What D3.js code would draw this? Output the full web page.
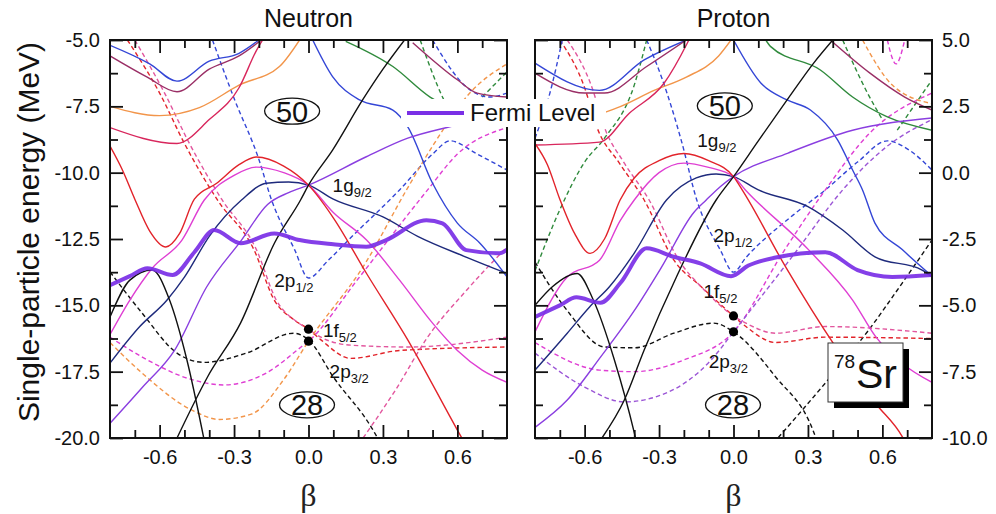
<!DOCTYPE html>
<html>
<head>
<meta charset="utf-8">
<script src="https://cdn.jsdelivr.net/npm/d3@7"></script>
<style>body{margin:0;background:#fff}</style>
</head>
<body>
<div class="chart"></div>
<script>
// ticks
const xMajor = [-0.6, -0.3, 0, 0.3, 0.6];
const xMinor = [-0.7, -0.5, -0.4, -0.2, -0.1, 0.1, 0.2, 0.4, 0.5, 0.7];
const nYMajor = [-20, -17.5, -15, -12.5, -10, -7.5, -5];
const nYMinor = [-18.75, -16.25, -13.75, -11.25, -8.75, -6.25];
const pYMajor = [-10, -7.5, -5, -2.5, 0, 2.5, 5];
const pYMinor = [-8.75, -6.25, -3.75, -1.25, 1.25, 3.75];

// neutron levels [beta, MeV]
const nBlackG = [[-0.53,-20.0],[-0.407,-17.7],[-0.274,-15.67],[-0.137,-12.65],[-0.032,-11.03],[0,-10.47],[0.097,-9.15],[0.218,-7.26],[0.3,-6.1],[0.387,-5.0]];
const nBlackPeak = [[-0.8,-15.44],[-0.72,-14.05],[-0.63,-13.67],[-0.56,-14.8],[-0.49,-17.06],[-0.42,-20.1]];
const nRed = [[-0.8,-9.0],[-0.75,-9.9],[-0.7,-11.0],[-0.64,-12.2],[-0.575,-12.8],[-0.52,-12.3],[-0.46,-11.0],[-0.37,-10.4],[-0.28,-9.7],[-0.21,-9.41],[-0.1,-9.75],[0,-10.47],[0.1,-11.7],[0.234,-13.8],[0.4,-16.3],[0.6,-19.7],[0.63,-20.2]];
const nMagenta = [[-0.8,-16.1],[-0.72,-14.8],[-0.63,-13.6],[-0.51,-12.54],[-0.42,-11.03],[-0.3,-10.1],[-0.21,-9.79],[-0.1,-10.0],[0,-10.47],[0.1,-11.5],[0.234,-12.54],[0.367,-14.05],[0.5,-15.67],[0.6,-16.7],[0.7,-17.44],[0.8,-17.9]];
const nNavy = [[-0.8,-17.18],[-0.68,-15.8],[-0.57,-14.8],[-0.5,-13.94],[-0.4,-12.4],[-0.27,-11.03],[-0.17,-10.4],[-0.08,-10.35],[0,-10.47],[0.1,-11.0],[0.3,-11.67],[0.44,-12.4],[0.64,-13.2],[0.8,-13.8]];
const nViolet = [[-0.8,-19.45],[-0.67,-18.1],[-0.54,-16.7],[-0.41,-14.3],[-0.27,-12.54],[-0.165,-11.2],[-0.08,-10.75],[0,-10.47],[0.233,-9.4],[0.4,-8.7],[0.569,-8.27],[0.8,-7.8]];
const nBlueTop = [[-0.8,-5.2],[-0.64,-5.9],[-0.53,-6.55],[-0.4,-5.8],[-0.28,-5.5],[-0.2,-5.0]];
const nMaroonTop = [[-0.8,-5.6],[-0.65,-6.4],[-0.53,-6.95],[-0.4,-6.1],[-0.28,-5.6],[-0.19,-5.0]];
const nOrange = [[-0.8,-7.5],[-0.6,-7.85],[-0.44,-7.55],[-0.28,-6.7],[-0.117,-6.0],[-0.036,-5.0]];
const nCrimson = [[-0.8,-8.3],[-0.53,-8.9],[-0.4,-8.0],[-0.28,-6.8],[-0.21,-5.4],[-0.185,-5.0]];
const nBlue2 = [[0.017,-5.0],[0.097,-6.38],[0.206,-7.26],[0.34,-7.64],[0.4,-8.27],[0.5,-10.4],[0.6,-11.9],[0.69,-12.65],[0.8,-13.93]];
const nGreen = [[0.15,-5.05],[0.34,-6.0],[0.49,-7.15],[0.6,-7.7],[0.8,-8.1]];
const nMaroon2 = [[0.42,-5.1],[0.6,-6.5],[0.68,-7.0],[0.8,-7.15]];
const nBlackDash = [[-0.8,-13.74],[-0.67,-15.3],[-0.53,-16.8],[-0.42,-17.15],[-0.25,-16.8],[-0.06,-16.05],[0,-16.3],[0.1,-17.7],[0.26,-19.7],[0.29,-20.2]];
const nBlueDash = [[-0.387,-5.0],[-0.3,-7.2],[-0.2,-9.5],[-0.15,-11.0],[-0.056,-12.9],[0,-13.97],[0.08,-13.3],[0.165,-12.5],[0.367,-10.65],[0.5,-9.3],[0.57,-8.8],[0.68,-9.3],[0.8,-9.9]];
const nRedDash = [[-0.73,-5.0],[-0.6,-7.0],[-0.5,-8.9],[-0.367,-11.03],[-0.22,-12.9],[-0.138,-14.8],[-0.058,-15.55],[0,-15.9],[0.05,-16.3],[0.17,-17.0],[0.37,-16.7],[0.8,-16.57]];
const nPinkDash = [[-0.7,-5.0],[-0.58,-7.0],[-0.48,-8.9],[-0.35,-11.0],[-0.21,-12.9],[-0.13,-14.8],[-0.05,-15.6],[0,-15.9],[0.05,-16.2],[0.17,-16.5],[0.4,-16.57],[0.8,-16.2]];
const nPinkDash2 = [[-0.8,-16.2],[-0.67,-16.95],[-0.47,-17.8],[-0.34,-18.0],[-0.17,-17.55],[-0.03,-16.57],[0,-16.35],[0.2,-14.0],[0.48,-10.65],[0.6,-9.3],[0.8,-8.3]];
const nOrangeDash = [[-0.8,-16.4],[-0.67,-17.56],[-0.47,-18.95],[-0.36,-19.3],[-0.23,-19.1],[-0.1,-17.8],[0,-16.35],[0.23,-13.4],[0.395,-10.65],[0.5,-9.0],[0.65,-7.0],[0.8,-5.9]];
const nPinkRise = [[0.22,-20.0],[0.35,-18.2],[0.48,-16.2],[0.64,-14.4],[0.8,-12.8]];
const nGreenDash = [[0.45,-5.0],[0.54,-7.15],[0.6,-8.2]];
const nGreenDash2 = [[0.7,-7.15],[0.8,-6.2]];
const nBlueDashTop = [[0.5,-5.0],[0.64,-6.8],[0.73,-7.15],[0.8,-7.0]];
const nFermi = [[-0.8,-14.24],[-0.72,-13.9],[-0.649,-13.6],[-0.548,-13.86],[-0.46,-13.0],[-0.38,-12.16],[-0.273,-12.66],[-0.138,-12.29],[-0.036,-12.54],[0.1,-12.7],[0.233,-12.79],[0.313,-12.54],[0.475,-11.79],[0.54,-11.91],[0.636,-12.92],[0.77,-13.04],[0.8,-12.9]];
const nDots = [[0,-15.9],[0,-16.35]];

// proton levels [beta, MeV]
const pBlackG = [[-0.53,-10.0],[-0.44,-8.57],[-0.36,-6.68],[-0.23,-3.93],[-0.07,-1.03],[0,-0.15],[0.1,1.2],[0.216,2.74],[0.323,4.13],[0.4,5.0]];
const pBlackPeak = [[-0.8,-5.0],[-0.73,-4.3],[-0.63,-3.8],[-0.565,-4.8],[-0.48,-7.06],[-0.4,-9.8],[-0.39,-10.2]];
const pRed = [[-0.8,1.1],[-0.75,0.3],[-0.7,-1.0],[-0.64,-2.3],[-0.578,-3.04],[-0.52,-2.5],[-0.457,-1.03],[-0.4,-0.2],[-0.3,0.45],[-0.2,0.72],[-0.1,0.45],[0,-0.15],[0.035,-0.65],[0.21,-3.55],[0.411,-6.56],[0.573,-8.7],[0.68,-9.95],[0.7,-10.3]];
const pMagenta = [[-0.8,-6.0],[-0.67,-3.93],[-0.54,-3.3],[-0.456,-1.8],[-0.4,-1.03],[-0.3,0.0],[-0.2,0.36],[-0.1,0.2],[0,-0.15],[0.048,-0.65],[0.304,-2.92],[0.48,-4.8],[0.573,-6.18],[0.68,-7.19],[0.8,-7.9]];
const pNavy = [[-0.8,-7.44],[-0.67,-6.05],[-0.58,-5.06],[-0.5,-4.3],[-0.4,-3.03],[-0.27,-1.03],[-0.15,-0.2],[-0.07,-0.05],[0,-0.15],[0.1,-0.65],[0.3,-1.28],[0.44,-2.16],[0.57,-3.17],[0.76,-3.67],[0.8,-3.93]];
const pViolet = [[-0.8,-9.6],[-0.67,-8.57],[-0.536,-6.95],[-0.4,-5.2],[-0.29,-3.56],[-0.16,-1.5],[-0.11,-1.03],[-0.05,-0.5],[0,-0.15],[0.22,0.74],[0.48,1.6],[0.8,2.06]];
const pBlue = [[0,5.0],[0.11,3.38],[0.216,2.74],[0.31,2.36],[0.42,1.23],[0.48,0.1],[0.52,-0.65],[0.57,-1.9],[0.68,-2.9],[0.8,-3.9]];
const pGreen = [[0.13,5.0],[0.15,4.75],[0.35,3.87],[0.48,2.85],[0.62,2.1],[0.8,1.6]];
const pMaroon = [[0.39,5.0],[0.55,3.75],[0.69,2.85],[0.8,2.36]];
const pBlueTop = [[-0.8,4.13],[-0.54,3.1],[-0.36,4.25],[-0.19,5.0]];
const pMaroonTop = [[-0.8,3.75],[-0.6,3.0],[-0.52,3.0],[-0.35,4.0],[-0.19,5.0]];
const pOrange = [[-0.8,2.2],[-0.6,2.1],[-0.47,2.44],[-0.32,3.1],[-0.19,3.6],[-0.06,4.4],[-0.01,5.0]];
const pCrimson = [[-0.8,1.04],[-0.54,1.15],[-0.42,2.24],[-0.28,3.37],[-0.187,4.87],[-0.18,5.0]];
const pBlackDash = [[-0.8,-3.37],[-0.67,-5.2],[-0.52,-6.57],[-0.4,-6.6],[-0.24,-6.05],[-0.08,-5.67],[0,-6.0],[0.17,-7.7],[0.32,-9.7],[0.34,-10.2]];
const pBlackRise = [[0.16,-10.2],[0.37,-7.93],[0.545,-5.93],[0.68,-4.16],[0.8,-2.54]];
const pBlueDash = [[-0.35,5.0],[-0.29,3.6],[-0.21,1.2],[-0.148,-1.03],[-0.054,-2.9],[0,-3.75],[0.05,-3.2],[0.24,-1.6],[0.37,-0.65],[0.5,0.4],[0.62,1.2],[0.7,0.9],[0.8,0.1]];
const pRedDash = [[-0.7,5.0],[-0.6,3.2],[-0.55,1.7],[-0.46,0.36],[-0.36,-1.03],[-0.24,-3.3],[-0.13,-4.3],[0,-5.4],[0.05,-5.8],[0.17,-6.4],[0.37,-6.2],[0.8,-6.25]];
const pPinkDash = [[-0.67,5.0],[-0.57,3.2],[-0.52,1.7],[-0.44,0.36],[-0.34,-1.03],[-0.22,-3.3],[-0.12,-4.4],[0,-5.4],[0.05,-5.67],[0.17,-6.05],[0.37,-5.8],[0.8,-6.05]];
const pPinkDash2 = [[-0.8,-6.4],[-0.54,-7.44],[-0.4,-7.5],[-0.2,-7.06],[0,-6.0],[0.2,-3.0],[0.37,-0.65],[0.55,1.5],[0.8,3.0]];
const pPurpleDash = [[-0.8,-6.8],[-0.6,-8.08],[-0.44,-8.64],[-0.27,-8.3],[-0.09,-7.06],[0,-6.0],[0.25,-3.0],[0.44,-0.65],[0.62,1.0],[0.8,2.0]];
const pGreenDash = [[-0.8,-3.7],[-0.7,-1.4],[-0.6,0.4],[-0.52,1.3],[-0.4,3.3],[-0.35,5.0]];
const pGreenDash2 = [[0.44,5.0],[0.54,3.0],[0.6,2.0]];
const pGreenDash3 = [[0.66,1.6],[0.8,3.5]];
const pOrangeDash = [[0.52,5.0],[0.64,3.3],[0.8,2.6]];
const pPinkV = [[0.62,5.0],[0.655,4.1],[0.69,5.0]];
const pBlueDashTL = [[-0.8,1.3],[-0.74,3.0],[-0.69,5.0]];
const pFermi = [[-0.8,-5.44],[-0.7,-5.0],[-0.633,-4.7],[-0.536,-4.9],[-0.456,-4.16],[-0.35,-2.85],[-0.242,-3.17],[-0.134,-3.42],[-0.01,-3.9],[0.06,-3.5],[0.17,-3.2],[0.37,-3.0],[0.5,-3.67],[0.64,-3.93],[0.8,-3.86]];
const pDots = [[0,-5.4],[0,-6.0]];

// annotations [text, sub, beta, MeV]
const nOrbits = [["1g","9/2",0.097,-10.73],["2p","1/2",-0.138,-14.31],["1f","5/2",0.058,-16.18],["2p","3/2",0.085,-17.74]];
const pOrbits = [["1g","9/2",-0.146,0.98],["2p","1/2",-0.081,-2.6],["1f","5/2",-0.121,-4.74],["2p","3/2",-0.1,-7.37]];
const nShells = [["50",-0.066,-7.68],["28",-0.006,-18.75]];
const pShells = [["50",-0.035,2.52],["28",-0.002,-8.75]];

const COL = {
  black: "#111111", red: "#e2232a", magenta: "#df3fd3", navy: "#1e2a7c", blue: "#3446d6",
  violet: "#8a3ee0", orange: "#f2954a", green: "#2f8a3c", maroon: "#9a2f66", crimson: "#d8265c",
  pink: "#e2569e", purple: "#9b55d6", fermi: "#7a2fe6"
};

const neutronLevels = [
  [nBlackDash,"black",1],[nBlueDash,"blue",1],[nRedDash,"red",1],[nPinkDash,"pink",1],
  [nPinkDash2,"magenta",1],[nOrangeDash,"orange",1],[nPinkRise,"pink",1],[nGreenDash,"green",1],
  [nGreenDash2,"green",1],[nBlueDashTop,"blue",1],
  [nBlueTop,"blue",0],[nMaroonTop,"maroon",0],[nOrange,"orange",0],[nCrimson,"crimson",0],
  [nBlue2,"blue",0],[nGreen,"green",0],[nMaroon2,"maroon",0],[nNavy,"navy",0],[nViolet,"violet",0],
  [nMagenta,"magenta",0],[nRed,"red",0],[nBlackPeak,"black",0],[nBlackG,"black",0]
];
const protonLevels = [
  [pBlackDash,"black",1],[pBlackRise,"black",1],[pBlueDash,"blue",1],[pRedDash,"red",1],[pPinkDash,"pink",1],
  [pPinkDash2,"magenta",1],[pPurpleDash,"purple",1],[pGreenDash,"green",1],[pGreenDash2,"green",1],
  [pGreenDash3,"green",1],[pOrangeDash,"orange",1],[pPinkV,"magenta",1],[pBlueDashTL,"blue",1],
  [pBlueTop,"blue",0],[pMaroonTop,"maroon",0],[pOrange,"orange",0],[pCrimson,"crimson",0],
  [pBlue,"blue",0],[pGreen,"green",0],[pMaroon,"maroon",0],[pNavy,"navy",0],[pViolet,"violet",0],
  [pMagenta,"magenta",0],[pRed,"red",0],[pBlackPeak,"black",0],[pBlackG,"black",0]
];

const W = 996, H = 514, TOP = 40, BOT = 438;
const FONT = "'Liberation Sans', Arial, Helvetica, sans-serif";

const svg = d3.select(".chart").append("svg")
  .attr("width", W).attr("height", H)
  .style("font-family", FONT);

const panels = [
  {id: "n", title: "Neutron", x0: 110, x1: 507, dom: [-20, -5], yMaj: nYMajor, yMin: nYMinor,
   levels: neutronLevels, fermi: nFermi, dots: nDots, orbits: nOrbits, shells: nShells, labelSide: "left"},
  {id: "p", title: "Proton", x0: 535, x1: 932, dom: [-10, 5], yMaj: pYMajor, yMin: pYMinor,
   levels: protonLevels, fermi: pFermi, dots: pDots, orbits: pOrbits, shells: pShells, labelSide: "right"}
];

const fmt = d => d.toFixed(1);

panels.forEach(p => {
  const x = d3.scaleLinear().domain([-0.8, 0.8]).range([p.x0, p.x1]);
  const y = d3.scaleLinear().domain(p.dom).range([BOT, TOP]);

  svg.append("clipPath").attr("id", "clip-" + p.id)
    .append("rect").attr("x", p.x0).attr("y", TOP)
    .attr("width", p.x1 - p.x0).attr("height", BOT - TOP);

  const g = svg.append("g").attr("clip-path", `url(#clip-${p.id})`);
  const line = d3.line().x(d => x(d[0])).y(d => y(d[1])).curve(d3.curveMonotoneX);

  g.selectAll("path.lvl").data(p.levels).join("path")
    .attr("class", "lvl")
    .attr("d", d => line(d[0]))
    .attr("fill", "none")
    .attr("stroke", d => COL[d[1]])
    .attr("stroke-width", 1.4)
    .attr("stroke-dasharray", d => d[2] ? "4.5,3" : null);

  g.append("path").attr("d", line(p.fermi))
    .attr("fill", "none").attr("stroke", COL.fermi)
    .attr("stroke-width", 4).attr("stroke-linejoin", "round").attr("opacity", 0.92);

  g.selectAll("circle").data(p.dots).join("circle")
    .attr("cx", d => x(d[0])).attr("cy", d => y(d[1])).attr("r", 4.6).attr("fill", "#000");

  // orbit labels
  const ot = svg.append("g").attr("font-size", 19).attr("fill", "#111");
  p.orbits.forEach(o => {
    const t = ot.append("text").attr("x", x(o[2])).attr("y", y(o[3]));
    t.append("tspan").text(o[0]);
    t.append("tspan").attr("font-size", 13).attr("dy", 5).text(o[1]);
  });

  // magic numbers
  p.shells.forEach(s => {
    svg.append("ellipse").attr("cx", x(s[1])).attr("cy", y(s[2]))
      .attr("rx", 27.5).attr("ry", 13).attr("fill", "#fff")
      .attr("stroke", "#111").attr("stroke-width", 1.3);
    svg.append("text").attr("x", x(s[1])).attr("y", y(s[2]))
      .attr("text-anchor", "middle").attr("dy", "0.36em")
      .attr("font-size", 29).attr("fill", "#111").text(s[0]);
  });

  // axes, ticks inward
  [[d3.axisBottom(x), BOT, true], [d3.axisTop(x), TOP, false]].forEach(([a, pos, lab]) => {
    svg.append("g").attr("transform", `translate(0,${pos})`)
      .call(a.tickValues(xMinor).tickSize(-8).tickFormat(""))
      .call(s => s.select(".domain").remove());
    const gg = svg.append("g").attr("transform", `translate(0,${pos})`)
      .call(a.tickValues(xMajor).tickSize(-13).tickPadding(12).tickFormat(lab ? fmt : ""))
      .call(s => s.select(".domain").remove());
    gg.selectAll("text").attr("font-size", 20).attr("font-family", FONT).attr("fill", "#111");
  });
  [[d3.axisLeft(y), p.x0, p.labelSide === "left"], [d3.axisRight(y), p.x1, p.labelSide === "right"]].forEach(([a, pos, lab]) => {
    svg.append("g").attr("transform", `translate(${pos},0)`)
      .call(a.tickValues(p.yMin).tickSize(-8).tickFormat(""))
      .call(s => s.select(".domain").remove());
    const gg = svg.append("g").attr("transform", `translate(${pos},0)`)
      .call(a.tickValues(p.yMaj).tickSize(-13).tickPadding(10).tickFormat(lab ? fmt : ""))
      .call(s => s.select(".domain").remove());
    gg.selectAll("text").attr("font-size", 20).attr("font-family", FONT).attr("fill", "#111");
  });
  svg.selectAll(".tick line").attr("stroke", "#111").attr("stroke-width", 1.8);

  svg.append("rect").attr("x", p.x0).attr("y", TOP)
    .attr("width", p.x1 - p.x0).attr("height", BOT - TOP)
    .attr("fill", "none").attr("stroke", "#111").attr("stroke-width", 2);

  svg.append("text").attr("x", (p.x0 + p.x1) / 2).attr("y", 27)
    .attr("text-anchor", "middle").attr("font-size", 25).attr("fill", "#111").text(p.title);

  svg.append("text").attr("x", (p.x0 + p.x1) / 2).attr("y", 506)
    .attr("text-anchor", "middle").attr("font-size", 32)
    .attr("font-family", "'Liberation Serif', 'Times New Roman', serif")
    .attr("fill", "#222").text("β");
});

svg.append("text")
  .attr("transform", "translate(28,232) rotate(-90)")
  .attr("text-anchor", "middle").attr("dominant-baseline", "central")
  .attr("font-size", 30).attr("fill", "#111")
  .text("Single-particle energy (MeV)");

// legend
svg.append("rect").attr("x", 401).attr("y", 99).attr("width", 205).attr("height", 28).attr("fill", "#fff");
svg.append("line").attr("x1", 407).attr("x2", 464).attr("y1", 113).attr("y2", 113)
  .attr("stroke", COL.fermi).attr("stroke-width", 4);
svg.append("text").attr("x", 470).attr("y", 121).attr("font-size", 24).attr("fill", "#111").text("Fermi Level");

// nucleus box
svg.append("rect").attr("x", 834).attr("y", 349).attr("width", 75).attr("height", 59).attr("fill", "#000");
svg.append("rect").attr("x", 828).attr("y", 343).attr("width", 75).attr("height", 59)
  .attr("fill", "#fff").attr("stroke", "#333").attr("stroke-width", 1);
svg.append("text").attr("x", 834).attr("y", 368).attr("font-size", 19).attr("fill", "#111").text("78");
svg.append("text").attr("x", 856).attr("y", 388).attr("font-size", 41).attr("fill", "#111").text("Sr");
</script>
</body>
</html>
